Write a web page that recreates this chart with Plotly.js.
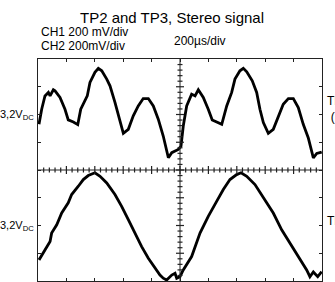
<!DOCTYPE html>
<html>
<head>
<meta charset="utf-8">
<script src="https://cdn.plot.ly/plotly-3.0.1.min.js"></script>
<style>html,body{margin:0;padding:0;background:#fff;}#chart{width:335px;height:282px;}</style>
</head>
<body>
<div id="chart"></div>
<script>
// Time in microseconds (200 µs/div), voltages in mV relative to each channel's 3,2 V DC level (200 mV/div)
const ch1Time = [7,26,49,73,85,108,120,155,190,213,249,280,301,347,366,401,425,449,484,507,542,577,601,636,671,706,741,777,812,847,882,918,942,988,1007,1023,1047,1082,1106,1129,1164,1199,1227,1294,1329,1364,1387,1422,1446,1470,1509,1540,1563,1587,1622,1657,1692,1727,1763,1798,1833,1868,1903,1939,1963,1998];
const ch1mV = [-70,38,134,159,134,178,170,123,38,-39,-54,-73,38,134,231,304,333,315,255,207,87,-58,-136,-107,-10,62,115,115,62,-34,-155,-312,-275,-252,-228,-83,62,147,134,178,123,38,-39,-71,62,159,255,315,333,308,243,159,38,-58,-136,-107,-10,74,115,115,50,-71,-167,-312,-281,-271];
const ch2Time = [7,19,49,85,96,132,167,213,237,284,319,354,401,437,484,542,589,636,683,730,777,824,859,882,906,942,965,977,1000,1023,1082,1141,1199,1258,1305,1352,1399,1430,1470,1528,1599,1657,1716,1775,1833,1892,1915,1939,1970,1998];
const ch2mV = [-248,-224,-176,-115,-55,5,90,163,223,283,331,360,380,355,307,223,138,42,-55,-152,-236,-308,-357,-380,-393,-357,-344,-380,-369,-320,-224,-55,66,174,259,331,367,380,355,295,186,90,-31,-127,-224,-320,-369,-335,-369,-333];
const channelOffsetDiv = [2, -2];   // screen position of each channel's DC level, in divisions
const voltsPerDiv = 200;            // mV/div
const timePerDiv = 200;             // µs/div
const dcLabel = '3,2V<sub>DC</sub>';
const probeLabels = ['TP2<br>(L)', 'TP3'];

const y1 = ch1mV.map(v => v / voltsPerDiv + channelOffsetDiv[0]);
const y2 = ch2mV.map(v => v / voltsPerDiv + channelOffsetDiv[1]);

const traces = [
  {x: ch1Time, y: y1, mode: 'lines', line: {color: '#000', width: 2.8}, hoverinfo: 'skip'},
  {x: ch2Time, y: y2, mode: 'lines', line: {color: '#000', width: 2.8}, hoverinfo: 'skip'}
];

const xMax = timePerDiv * 10;
const xMid = xMax / 2;
const shapes = [
  {type: 'line', xref: 'x', yref: 'y', x0: xMid, x1: xMid, y0: -4, y1: 4, line: {color: '#222', width: 1}},
  {type: 'line', xref: 'x', yref: 'y', x0: 0, x1: xMax, y0: 0, y1: 0, line: {color: '#222', width: 1}}
];
// graticule ticks on the centre lines: 5 minor per division
for (let i = 1; i < 50; i++) {
  const xv = i * timePerDiv / 5;
  const len = (i % 5 === 0) ? 4 : 2.5;
  shapes.push({type: 'line', xref: 'x', yref: 'y', ysizemode: 'pixel', yanchor: 0, x0: xv, x1: xv, y0: -len, y1: len, line: {color: '#222', width: 1.2}});
}
for (let i = 1; i < 40; i++) {
  const yv = -4 + i / 5;
  const len = (i % 5 === 0) ? 4 : 2.5;
  shapes.push({type: 'line', xref: 'x', yref: 'y', xsizemode: 'pixel', xanchor: xMid, x0: -len, x1: len, y0: yv, y1: yv, line: {color: '#222', width: 1.2}});
}

const font = 'Liberation Sans, Arial, sans-serif';
const annotations = [
  {text: 'CH1 200 mV/div', xref: 'paper', yref: 'paper', x: 0.003, y: 1.122, xanchor: 'left', yanchor: 'middle', showarrow: false, font: {size: 12, family: font, color: '#000'}},
  {text: 'CH2 200mV/div', xref: 'paper', yref: 'paper', x: 0.003, y: 1.057, xanchor: 'left', yanchor: 'middle', showarrow: false, font: {size: 12, family: font, color: '#000'}},
  {text: '200µs/div', xref: 'paper', yref: 'paper', x: 0.472, y: 1.083, xanchor: 'left', yanchor: 'middle', showarrow: false, font: {size: 12, family: font, color: '#000'}},
  {text: dcLabel, xref: 'paper', yref: 'y', x: -0.006, y: channelOffsetDiv[0], xanchor: 'right', yanchor: 'middle', showarrow: false, font: {size: 11, family: font, color: '#000'}},
  {text: dcLabel, xref: 'paper', yref: 'y', x: -0.006, y: channelOffsetDiv[1], xanchor: 'right', yanchor: 'middle', showarrow: false, font: {size: 11, family: font, color: '#000'}},
  {text: probeLabels[0], xref: 'paper', yref: 'y', x: 1.012, y: 2.2, xanchor: 'left', yanchor: 'middle', showarrow: false, align: 'center', font: {size: 12, family: font, color: '#000'}},
  {text: probeLabels[1], xref: 'paper', yref: 'y', x: 1.012, y: -1.85, xanchor: 'left', yanchor: 'middle', showarrow: false, font: {size: 12, family: font, color: '#000'}}
];

const axisCommon = {showline: true, mirror: 'ticks', linecolor: '#222', linewidth: 1, ticks: 'inside', ticklen: 3, tickcolor: '#222', showticklabels: false, showgrid: false, zeroline: false, fixedrange: true};

const layout = {
  width: 335, height: 282,
  margin: {l: 38, r: 13, t: 59, b: 1, pad: 0},
  paper_bgcolor: '#fff', plot_bgcolor: '#fff',
  showlegend: false,
  title: {text: 'TP2 and TP3, Stereo signal', x: 172 / 335, xref: 'container', xanchor: 'center', y: 1 - 18 / 282, yref: 'container', yanchor: 'middle', font: {size: 15, family: font, color: '#000'}},
  xaxis: Object.assign({range: [0, xMax], tickvals: Array.from({length: 11}, (_, i) => i * timePerDiv)}, axisCommon),
  yaxis: Object.assign({range: [-4, 4], tickvals: [-4, -3, -2, -1, 0, 1, 2, 3, 4]}, axisCommon),
  shapes: shapes,
  annotations: annotations
};

Plotly.newPlot('chart', traces, layout, {displayModeBar: false, staticPlot: true});
</script>
</body>
</html>
